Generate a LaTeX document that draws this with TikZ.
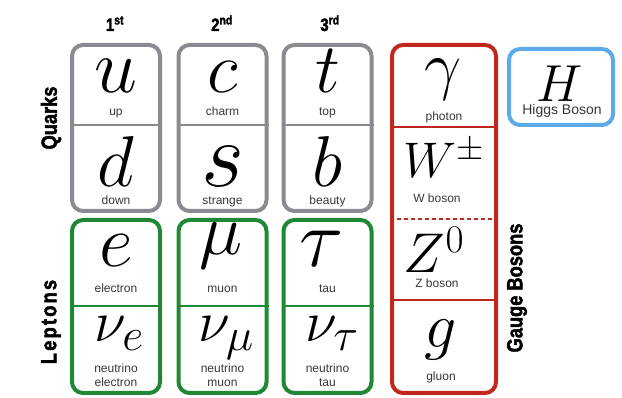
\RequirePackage{fix-cm}
\documentclass[tikz,border=0pt]{standalone}
\usepackage{amsmath,amssymb}
\usepackage{fontspec}
\newfontfamily\namefont{Liberation Sans}
\newfontfamily\headfont[FakeStretch=0.83,BoldFeatures={FakeBold=2}]{Liberation Sans}

\definecolor{quarkgray}{RGB}{138,138,145}
\definecolor{leptongreen}{RGB}{32,135,52}
\definecolor{gaugered}{RGB}{192,40,30}
\definecolor{higgsblue}{RGB}{92,170,234}
\definecolor{namegray}{RGB}{55,55,55}

% large subscript for the neutrinos
\newcommand{\bigsub}[1]{\mbox{\fontsize{46}{46}\selectfont$#1$}}

\begin{document}
\begin{tikzpicture}[x=1pt,y=-1pt,
  cellbox/.style={draw=#1,line width=4pt,rounded corners=11pt,inner sep=0pt},
  quarkbox/.style={cellbox=quarkgray,minimum width=88pt,minimum height=166pt},
  leptonbox/.style={cellbox=leptongreen,minimum width=88pt,minimum height=173pt},
  sym/.style={anchor=base,inner sep=0pt,font=\fontsize{#1}{#1}\selectfont},
  sym/.default=74,
  partname/.style={anchor=base,inner sep=0pt,text=namegray,font=\namefont\fontsize{12}{12}\selectfont},
  genlabel/.style={anchor=base,inner sep=0pt,font=\headfont\bfseries\fontsize{18}{18}\selectfont},
  grouplabel/.style={rotate=90,inner sep=0pt,font=\headfont\bfseries\fontsize{22}{22}\selectfont}]

\useasboundingbox (0,0) rectangle (622,398);

% ---------------- GENERATIONS ----------------

\node[genlabel] (gen1) at (115,31) {1\textsuperscript{st}};
\node[genlabel] (gen2) at (222,31) {2\textsuperscript{nd}};
\node[genlabel] (gen3) at (330,31) {3\textsuperscript{rd}};

\node[grouplabel] (quarks) at (51,118) {Quarks};
\node[grouplabel] (leptons) at (51,322) {\addfontfeature{LetterSpace=10}Leptons};
\node[grouplabel] (gauge) at (517,288) {Gauge Bosons};

% ---------------- QUARKS ----------------

\node[quarkbox] (Q1) at (116,128) {};
\node[quarkbox] (Q2) at (222.5,128) {};
\node[quarkbox] (Q3) at (327.5,128) {};

\coordinate (qmid) at (0,125);
\draw[quarkgray,line width=1.2pt] (Q1.west |- qmid) -- (Q1.east |- qmid);
\draw[quarkgray,line width=1.2pt] (Q2.west |- qmid) -- (Q2.east |- qmid);
\draw[quarkgray,line width=1.2pt] (Q3.west |- qmid) -- (Q3.east |- qmid);

\node[sym=77] (u) at (116,93) {$u$};
\node[partname] (u-txt) at (116,116) {up};
\node[sym=72] (d) at (116,187) {$d$};
\node[partname] (d-txt) at (116,205) {down};

\node[sym=72] (c) at (222.5,93) {$c$};
\node[partname] (c-txt) at (222.5,116) {charm};
\node[sym=93] (s) at (222.5,187) {$s$};
\node[partname] (s-txt) at (222.5,205) {strange};

\node[sym=70] (t) at (327.5,93) {$t$};
\node[partname] (t-txt) at (327.5,116) {top};
\node[sym=72] (b) at (327.5,187) {$b$};
\node[partname] (b-txt) at (327.5,205) {beauty};

% ---------------- LEPTONS ----------------

\node[leptonbox] (L1) at (116,306.5) {};
\node[leptonbox] (L2) at (222.5,306.5) {};
\node[leptonbox] (L3) at (327.5,306.5) {};

\coordinate (lmid) at (0,306);
\draw[leptongreen,line width=1.2pt] (L1.west |- lmid) -- (L1.east |- lmid);
\draw[leptongreen,line width=1.2pt] (L2.west |- lmid) -- (L2.east |- lmid);
\draw[leptongreen,line width=1.2pt] (L3.west |- lmid) -- (L3.east |- lmid);

\node[sym=74] (e) at (116,267) {$e$};
\node[partname] (e-txt) at (116,293) {electron};
\node[sym=58] (nue) at (119,342) {$\nu_{\bigsub{e}}$};
\node[partname] (nue-txt) at (116,373) {neutrino};
\node[partname] (nue-txt2) at (116,387) {electron};

\node[sym=73] (mu) at (221,255) {$\mu$};
\node[partname] (mu-txt) at (222.5,293) {muon};
\node[sym=58] (numu) at (226,342) {$\nu_{\bigsub{\mu}}$};
\node[partname] (numu-txt) at (222.5,373) {neutrino};
\node[partname] (numu-txt2) at (222.5,387) {muon};

\node[sym=82] (tau) at (322,267) {$\tau$};
\node[partname] (tau-txt) at (327.5,293) {tau};
\node[sym=58] (nutau) at (332,342) {$\nu_{\bigsub{\tau}}$};
\node[partname] (nutau-txt) at (327.5,373) {neutrino};
\node[partname] (nutau-txt2) at (327.5,387) {tau};

% ---------------- GAUGE BOSONS ----------------

\node[cellbox=gaugered,minimum width=104pt,minimum height=348pt] (GB) at (444,219) {};

\coordinate (gmid1) at (0,127);
\coordinate (gmid2) at (0,219);
\coordinate (gmid3) at (0,300);
\draw[gaugered,line width=1.2pt] (GB.west |- gmid1) -- (GB.east |- gmid1);
\draw[gaugered,line width=1.5pt,dash pattern=on 4pt off 3pt] (GB.west |- gmid2) -- (GB.east |- gmid2);
\draw[gaugered,line width=1.2pt] (GB.west |- gmid3) -- (GB.east |- gmid3);

\node[sym=66] (gamma) at (443,88) {$\gamma$};
\node[partname] (gamma-txt) at (444,121) {photon};
\node[sym=50] (W) at (444,178) {$W^\pm$};
\node[partname] (W-txt) at (437,203) {W boson};
\node[sym=56] (Z) at (434,273) {$Z^0$};
\node[partname] (Z-txt) at (437,288) {Z boson};
\node[sym=64] (g) at (441,348) {$g$};
\node[partname] (g-txt) at (441,381) {gluon};

% ---------------- HIGGS ----------------

\node[cellbox=higgsblue,minimum width=104pt,minimum height=76pt] (HB) at (561,87) {};
\node[sym=52] (H) at (560,102) {$H$};
\node[partname,font=\namefont\fontsize{14}{14}\selectfont] (H-txt) at (562,115) {Higgs Boson};

\end{tikzpicture}
\end{document}
